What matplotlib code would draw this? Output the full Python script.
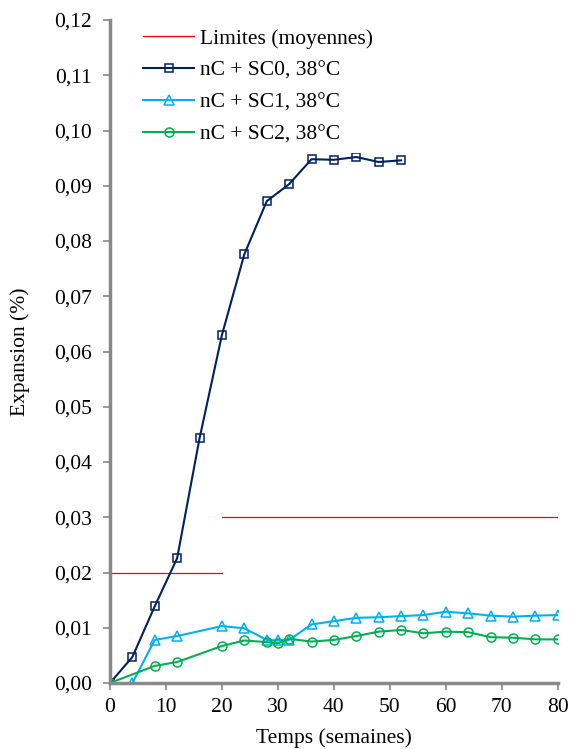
import matplotlib
matplotlib.use("Agg")
import matplotlib.pyplot as plt
from matplotlib.ticker import FuncFormatter

plt.rcParams['font.family'] = ['Liberation Serif', 'DejaVu Serif']

# Data
lim_x1 = [0, 20]
lim_y1 = [0.02, 0.02]
lim_x2 = [20, 80]
lim_y2 = [0.03, 0.03]

sc0_x = [0, 4, 8, 12, 16, 20, 24, 28, 32, 36, 40, 44, 48, 52]
sc0_y = [0.0, 0.0047, 0.0139, 0.0226, 0.0443, 0.0630, 0.0776, 0.0872, 0.0903,
         0.0948, 0.0947, 0.0952, 0.0943, 0.0946]

sc1_x = [0, 4, 8, 12, 20, 24, 28, 30, 32, 36, 40, 44, 48, 52, 56, 60, 64, 68, 72, 76, 80]
sc1_y = [0.0, 0.0, 0.0078, 0.0085, 0.0103, 0.0099, 0.0078, 0.0077, 0.0078, 0.0106,
         0.0112, 0.0118, 0.0119, 0.0121, 0.0123, 0.0129, 0.0126, 0.0122, 0.0120,
         0.0122, 0.0123]

sc2_x = [0, 8, 12, 20, 24, 28, 30, 32, 36, 40, 44, 48, 52, 56, 60, 64, 68, 72, 76, 80]
sc2_y = [0.0, 0.0031, 0.0038, 0.0067, 0.0077, 0.0074, 0.0072, 0.0080, 0.0075, 0.0078,
         0.0085, 0.0093, 0.0096, 0.0090, 0.0093, 0.0092, 0.0083, 0.0082, 0.0079, 0.0079]

labels = ['Limites (moyennes)', 'nC + SC0, 38°C', 'nC + SC1, 38°C', 'nC + SC2, 38°C']

fig = plt.figure(figsize=(5.71, 7.49), dpi=100)
ax = fig.add_axes([0.1926, 0.0881, 0.7844, 0.8852])

red = '#FF0000'
navy = '#002060'
cyan = '#00B0F0'
green = '#00B050'

FS = 15.5

l0, = ax.plot(lim_x1, lim_y1, color=red, lw=0.9, label=labels[0])
ax.plot(lim_x2, lim_y2, color=red, lw=0.9)
l1, = ax.plot(sc0_x, sc0_y, color=navy, lw=1.5, marker='s', ms=6, mfc='none',
              mec=navy, mew=1.1, label=labels[1])
l2, = ax.plot(sc1_x, sc1_y, color=cyan, lw=1.5, marker='^', ms=6.5, mfc='none',
              mec=cyan, mew=1.1, label=labels[2])
l3, = ax.plot(sc2_x, sc2_y, color=green, lw=1.5, marker='o', ms=6.5, mfc='none',
              mec=green, mew=1.1, label=labels[3])
ax.set_xlim(0, 80)
ax.set_ylim(0, 0.12)
ax.set_xticks(range(0, 81, 10))
ax.set_yticks([i / 100 for i in range(0, 13)])
ax.yaxis.set_major_formatter(FuncFormatter(lambda v, p: f"{v:.2f}".replace('.', ',')))

for s in ['top', 'right']:
    ax.spines[s].set_visible(False)
for s in ['left', 'bottom']:
    ax.spines[s].set_color('#888888')
    ax.spines[s].set_linewidth(2.5)
ax.tick_params(axis='both', direction='out', color='#888888', width=1.2, length=5,
               labelsize=FS, labelcolor='black')
ax.tick_params(axis='x', pad=6)
ax.tick_params(axis='y', pad=8)

ax.set_xlabel('Temps (semaines)', fontsize=FS, labelpad=8)
ax.set_ylabel('Expansion (%)', fontsize=FS, labelpad=17)

leg = ax.legend(handles=[l0, l1, l2, l3], loc='upper left', bbox_to_anchor=(0.054, 1.0),
                frameon=True, fontsize=FS, handlelength=2.4, labelspacing=0.55,
                handletextpad=0.25, borderaxespad=0.0, edgecolor='none', facecolor='white',
                framealpha=1.0)
leg.get_frame().set_linewidth(0)

fig.savefig('out.png', dpi=100)
